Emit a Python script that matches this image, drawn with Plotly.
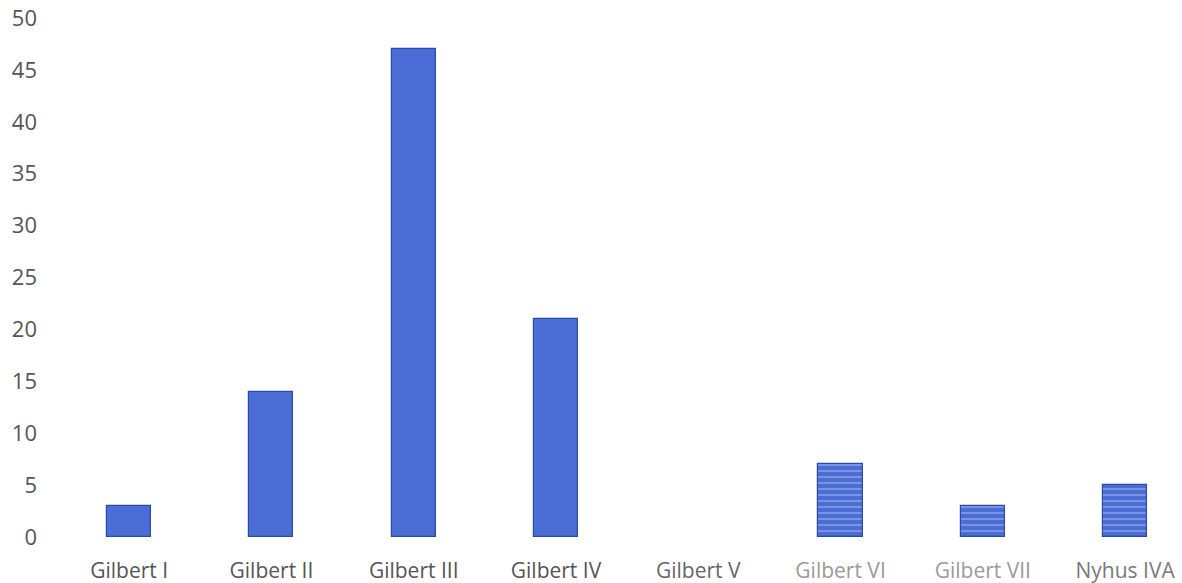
import plotly.graph_objects as go

categories = ["Gilbert I", "Gilbert II", "Gilbert III", "Gilbert IV", "Gilbert V",
              "Gilbert VI", "Gilbert VII", "Nyhus IVA"]
values = [3, 14, 47, 21, 0, 7, 3, 5]
hatched = [False, False, False, False, False, True, True, True]
label_colors = ["#555555", "#555555", "#555555", "#555555", "#666666",
                "#9a9a9a", "#9a9a9a", "#7a7a7a"]
y_ticks = [0, 5, 10, 15, 20, 25, 30, 35, 40, 45, 50]

x_idx = list(range(len(categories)))
solid_x = [i for i in x_idx if not hatched[i]]
solid_y = [values[i] for i in solid_x]
hatch_x = [i for i in x_idx if hatched[i]]
hatch_y = [values[i] for i in hatch_x]

fig = go.Figure()
fig.add_trace(go.Bar(
    x=solid_x, y=solid_y, width=0.31,
    marker=dict(color="#4a6dd6",
                line=dict(color="#2c48a8", width=[1.2 if v > 0 else 0 for v in solid_y])),
    showlegend=False,
))
fig.add_trace(go.Bar(
    x=hatch_x, y=hatch_y, width=0.31,
    marker=dict(
        color="#4a6dd6",
        line=dict(color="#2c48a8", width=1.2),
        pattern=dict(shape="-", fgcolor="#b3c3f0", bgcolor="#4a6dd6",
                     size=6, solidity=0.3),
    ),
    showlegend=False,
))

ticktext = [f'<span style="color:{c}">{t}</span>' for t, c in zip(categories, label_colors)]

fig.update_layout(
    width=1182, height=583,
    margin=dict(l=58, r=0, t=18, b=46),
    paper_bgcolor="white", plot_bgcolor="white",
    font=dict(family="Open Sans, Liberation Sans, sans-serif", size=22, color="#555555"),
    bargap=0,
    xaxis=dict(range=[-0.5, 7.4], tickmode="array", tickvals=x_idx, ticktext=ticktext,
               showgrid=False, showline=False, zeroline=False, ticks="",
               ticklabelstandoff=19, tickfont=dict(size=21)),
    yaxis=dict(range=[0, 50], tickvals=y_ticks, showgrid=False, showline=False,
               zeroline=False, ticks="", ticklabelstandoff=20,
               tickfont=dict(size=22, color="#555555")),
)

fig.write_html("out.html")
